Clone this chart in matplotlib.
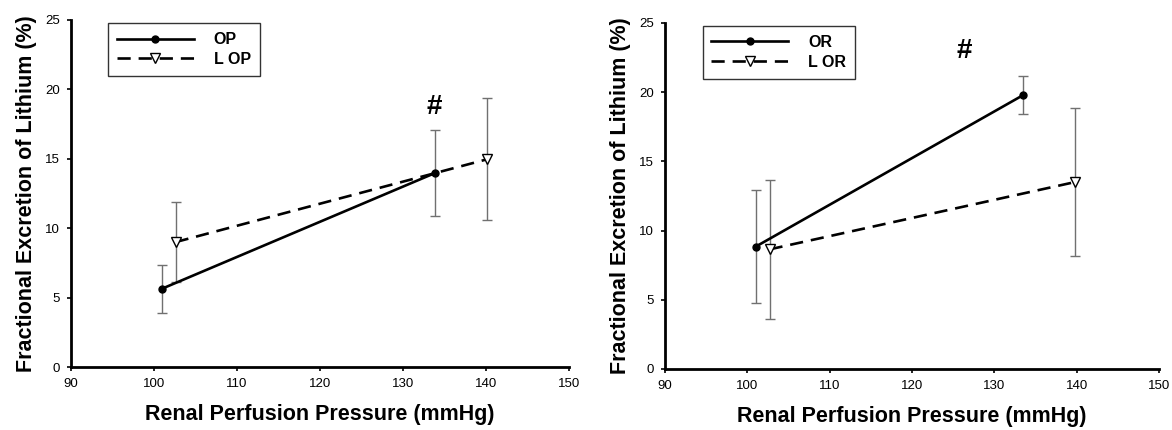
import matplotlib
matplotlib.use("Agg")
import matplotlib.pyplot as plt

plt.rcParams['font.family'] = ['Liberation Sans', 'DejaVu Sans']

# Renal perfusion pressure (mmHg) and fractional lithium excretion (%), mean +/- error
op_x = [101.0, 133.8]
op_y = [5.65, 13.96]
op_err = [1.73, 3.09]
lop_x = [102.6, 140.1]
lop_y = [9.0, 14.96]
lop_err = [2.9, 4.39]

or_x = [101.0, 133.5]
or_y = [8.83, 19.78]
or_err = [4.09, 1.36]
lor_x = [102.7, 139.8]
lor_y = [8.64, 13.5]
lor_err = [5.03, 5.37]

panels = [
    dict(a=("OP", op_x, op_y, op_err), b=("L OP", lop_x, lop_y, lop_err), mark=(133.8, 18.75)),
    dict(a=("OR", or_x, or_y, or_err), b=("L OR", lor_x, lor_y, lor_err), mark=(126.3, 23.0)),
]

xticks = [90, 100, 110, 120, 130, 140, 150]
yticks = [0, 5, 10, 15, 20, 25]

fig = plt.figure(figsize=(11.72, 4.30), dpi=100)
rects = [[0.0606, 0.1465, 0.4249, 0.807], [0.5674, 0.1419, 0.4215, 0.805]]
legend_anchor = [(0.075, 0.99), (0.076, 0.99)]

for rect, p, anchor in zip(rects, panels, legend_anchor):
    ax = fig.add_axes(rect)
    name_a, xa, ya, ea = p["a"]
    name_b, xb, yb, eb = p["b"]
    ax.errorbar(xa, ya, yerr=ea, fmt='none', ecolor='#707070', elinewidth=1.0,
                capsize=3.3, capthick=1.0, zorder=1)
    ax.errorbar(xb, yb, yerr=eb, fmt='none', ecolor='#707070', elinewidth=1.0,
                capsize=3.3, capthick=1.0, zorder=1)
    ax.plot(xa, ya, color='black', lw=1.9, marker='o', ms=5,
            mfc='black', mec='black', label=name_a, zorder=3)
    ax.plot(xb, yb, color='black', lw=1.9, ls=(0, (5, 3)), marker='v', ms=7,
            mfc='white', mec='black', mew=1.0, label=name_b, zorder=3)
    ax.text(p["mark"][0], p["mark"][1], "#", ha='center', va='center',
            fontsize=20, fontweight='bold')

    ax.set_xlim(90, 150)
    ax.set_ylim(0, 25)
    ax.set_xticks(xticks)
    ax.set_yticks(yticks)
    ax.tick_params(axis='both', labelsize=9.5, length=3, width=1.2, direction='out', pad=5)
    for s in ('top', 'right'):
        ax.spines[s].set_visible(False)
    for s in ('left', 'bottom'):
        ax.spines[s].set_linewidth(2.0)
    ax.set_xlabel("Renal Perfusion Pressure (mmHg)", fontsize=15.5,
                  fontweight='bold', labelpad=10)
    ax.set_ylabel("Fractional Excretion of Lithium (%)", fontsize=15.5,
                  fontweight='bold', labelpad=6)
    leg = ax.legend(loc='upper left', bbox_to_anchor=anchor,
                    prop={'weight': 'bold', 'size': 11.5}, handlelength=4.8,
                    frameon=True, fancybox=False, edgecolor='black',
                    borderpad=0.55, labelspacing=0.3, handletextpad=1.25,
                    borderaxespad=0.0)
    leg.get_frame().set_linewidth(1.0)

fig.savefig("out.png", dpi=100)
